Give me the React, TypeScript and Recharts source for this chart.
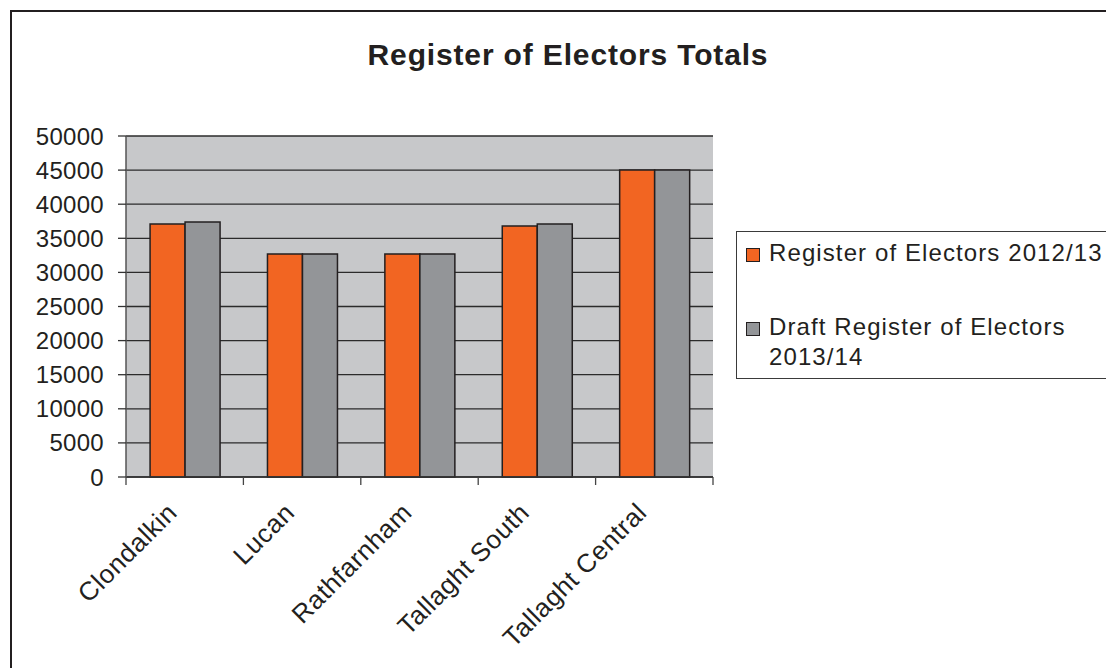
import React from "react";
import {
  BarChart,
  Bar,
  XAxis,
  YAxis,
  CartesianGrid,
  Legend,
} from "recharts";

const districts = ["Clondalkin", "Lucan", "Rathfarnham", "Tallaght South", "Tallaght Central"];
const register2012 = [37100, 32700, 32700, 36800, 45000];
const draft2013 = [37400, 32700, 32700, 37100, 45000];
const yTicks = [0, 5000, 10000, 15000, 20000, 25000, 30000, 35000, 40000, 45000, 50000];

const seriesNames = ["Register of Electors 2012/13", "Draft Register of Electors 2013/14"];

const data = districts.map((district, i) => ({
  district,
  reg: register2012[i],
  draft: draft2013[i],
}));

const W = 1106;
const H = 668;
const MARGIN = { top: 136, right: 393, left: 0, bottom: 0 };
const Y_AXIS_W = 126;
const X_AXIS_H = 191;
const PLOT_W = W - MARGIN.right - MARGIN.left - Y_AXIS_W;
const BAND = PLOT_W / districts.length;

const FONT = "'Liberation Sans', Arial, Helvetica, sans-serif";
const INK = "#231f20";
const ORANGE = "#f26522";
const GREY = "#939598";
const PLOT_BG = "#c7c8ca";

// category labels at 45°, with tick marks on the band boundaries like Excel
const CategoryTick = (props: any) => {
  const { x, y, payload, index } = props;
  const lx = x - 6;
  const ly = y + 37;
  return (
    <g>
      <line x1={x - BAND / 2} x2={x - BAND / 2} y1={y} y2={y + 8} stroke="#444" strokeWidth={1.3} />
      {index === districts.length - 1 && (
        <line x1={x + BAND / 2} x2={x + BAND / 2} y1={y} y2={y + 8} stroke="#444" strokeWidth={1.3} />
      )}
      <text
        x={lx}
        y={ly}
        transform={`rotate(-45 ${lx} ${ly})`}
        textAnchor="end"
        fontFamily={FONT}
        fontSize={26}
        letterSpacing={0.6}
        fill={INK}
      >
        {payload.value}
      </text>
    </g>
  );
};

const LegendBox = (props: any) => {
  const items = [...(props.payload || [])].sort(
    (a: any, b: any) => seriesNames.indexOf(a.value) - seriesNames.indexOf(b.value)
  );
  return (
    <div
      style={{
        border: "1.5px solid #3a3a3a",
        borderRight: "none",
        width: 380,
        height: 148,
        boxSizing: "border-box",
        paddingTop: 6,
        fontFamily: FONT,
        fontSize: 24,
        lineHeight: "30px",
        color: INK,
      }}
    >
      {items.map((entry: any, i: number) => (
        <div key={entry.value} style={{ display: "flex", alignItems: "flex-start", marginBottom: i === 0 ? 44 : 0 }}>
          <span
            style={{
              display: "inline-block",
              width: 14,
              height: 14,
              marginTop: 10,
              marginLeft: 9,
              marginRight: 9,
              background: entry.color,
              border: `1.5px solid ${INK}`,
              boxSizing: "border-box",
              flex: "none",
            }}
          />
          <span style={{ width: 345, letterSpacing: 1.1 }}>{entry.value}</span>
        </div>
      ))}
    </div>
  );
};

export default function App() {
  return (
    <div
      style={{
        position: "absolute",
        left: 0,
        top: 0,
        width: W,
        height: H,
        overflow: "hidden",
        background: "#fff",
      }}
    >
      {/* chart frame, only the top and left edges fall inside the page */}
      <div
        style={{
          position: "absolute",
          left: 9.5,
          top: 10,
          width: 1200,
          height: 800,
          borderLeft: `2px solid ${INK}`,
          borderTop: `2px solid ${INK}`,
        }}
      />
      <div
        style={{
          position: "absolute",
          left: 568,
          top: 40,
          transform: "translateX(-50%)",
          whiteSpace: "nowrap",
          fontFamily: FONT,
          fontWeight: "bold",
          fontSize: 30,
          letterSpacing: 0.85,
          lineHeight: "30px",
          color: INK,
        }}
      >
        Register of Electors Totals
      </div>
      <div style={{ position: "absolute", left: 0, top: 0 }}>
        <BarChart
          width={W}
          height={H}
          data={data}
          margin={MARGIN}
          barCategoryGap="20.5%"
          barGap={0}
        >
          <CartesianGrid vertical={false} fill={PLOT_BG} fillOpacity={1} stroke="#2b2b2b" strokeWidth={1.3} />
          <XAxis
            dataKey="district"
            interval={0}
            height={X_AXIS_H}
            tickLine={false}
            tickSize={0}
            tickMargin={0}
            axisLine={{ stroke: "#333", strokeWidth: 1.5 }}
            tick={<CategoryTick />}
          />
          <XAxis xAxisId="top" orientation="top" dataKey="district" height={0} tick={false} tickLine={false} axisLine={{ stroke: "#8a8a8a", strokeWidth: 1.5 }} />
          <YAxis
            width={Y_AXIS_W}
            domain={[0, 50000]}
            ticks={yTicks}
            interval={0}
            tickSize={8}
            tickMargin={14}
            tickLine={{ stroke: "#333", strokeWidth: 1.3 }}
            axisLine={{ stroke: "#555", strokeWidth: 1.5 }}
            tick={{ fontFamily: FONT, fontSize: 24, fill: INK, letterSpacing: 0.3 }}
          />
          <YAxis yAxisId="right" orientation="right" width={0} domain={[0, 50000]} tick={false} tickLine={false} axisLine={{ stroke: "#8a8a8a", strokeWidth: 1.5 }} />
          <Legend
            layout="horizontal"
            align="center"
            verticalAlign="middle"
            content={<LegendBox />}
            wrapperStyle={{ left: 736, top: 231, width: 380, height: 148 }}
          />
          <Bar dataKey="reg" name={seriesNames[0]} fill={ORANGE} stroke={INK} strokeWidth={1.5} isAnimationActive={false} />
          <Bar dataKey="draft" name={seriesNames[1]} fill={GREY} stroke={INK} strokeWidth={1.5} isAnimationActive={false} />
        </BarChart>
      </div>
    </div>
  );
}
